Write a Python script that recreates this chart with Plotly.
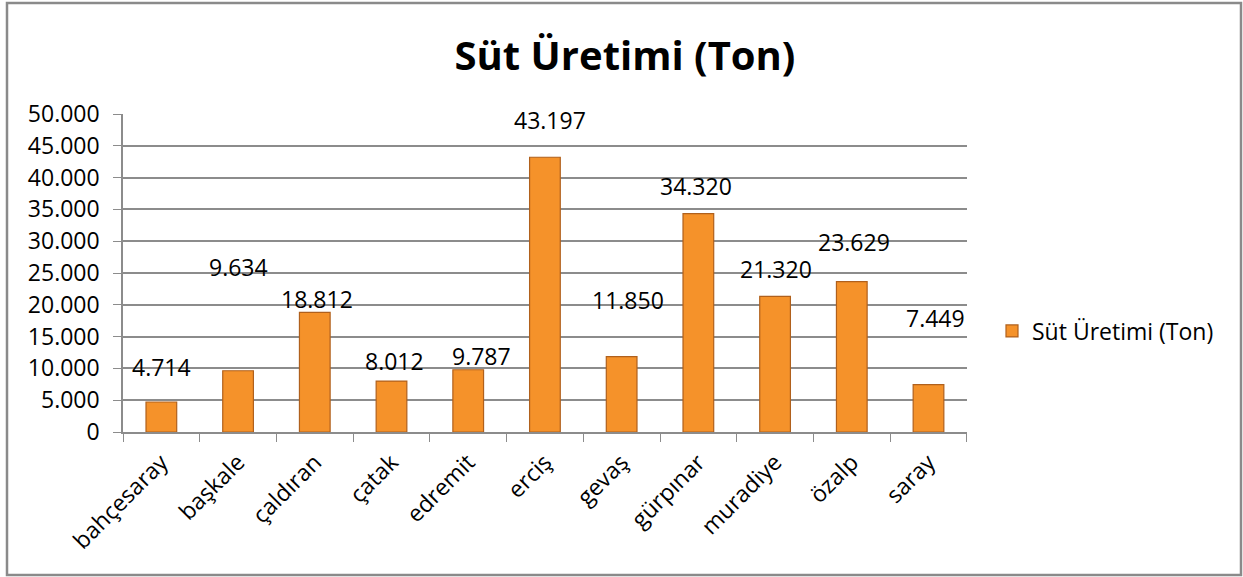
import plotly.graph_objects as go

categories = ["bahçesaray", "başkale", "çaldıran", "çatak", "edremit", "erciş",
              "gevaş", "gürpınar", "muradiye", "özalp", "saray"]
values = [4714, 9634, 18812, 8012, 9787, 43197, 11850, 34320, 21320, 23629, 7449]
value_labels = ["4.714", "9.634", "18.812", "8.012", "9.787", "43.197",
                "11.850", "34.320", "21.320", "23.629", "7.449"]
y_ticks = [0, 5000, 10000, 15000, 20000, 25000, 30000, 35000, 40000, 45000, 50000]
y_tick_labels = ["0", "5.000", "10.000", "15.000", "20.000", "25.000",
                 "30.000", "35.000", "40.000", "45.000", "50.000"]
series_name = "Süt Üretimi (Ton)"

# label placement offsets (pixels) mimicking the hand-moved labels
label_yshift = [34, 103, 12, 19, 13, 36, 56, 27, 26, 39, 66]
label_xshift = [0, 0, 2, 3, 13, 5, 6, -2, 1, 2, 7]

W, H = 1243, 577
ML, MR, MT, MB = 123, 276, 114, 145
PW, PH = W - ML - MR, H - MT - MB

FONT = "'Open Sans', Lato, sans-serif"
GRID = "#8c8c8c"

fig = go.Figure()
fig.add_trace(go.Bar(
    x=categories, y=values, name=series_name,
    marker=dict(color="#F5922A", line=dict(color="#B0601C", width=1.2)),
    width=0.4, showlegend=True,
))

for c, v, t, ys, xs in zip(categories, values, value_labels, label_yshift, label_xshift):
    fig.add_annotation(x=c, y=v, text=t, showarrow=False, yanchor="bottom",
                       yshift=ys - 17, xshift=xs,
                       font=dict(family=FONT, size=23, color="#000"))

def px_x(p):
    return (p - ML) / PW

def px_y(p):
    return (H - MB - p) / PH

fig.add_shape(type="rect", xref="paper", yref="paper",
              x0=px_x(7), x1=px_x(1241), y0=px_y(575), y1=px_y(3),
              line=dict(color="#8a8a8a", width=2.5), layer="below")

fig.update_layout(
    width=W, height=H,
    margin=dict(l=ML, r=MR, t=MT, b=MB, autoexpand=False),
    paper_bgcolor="white", plot_bgcolor="white",
    title=dict(text="<b>Süt Üretimi (Ton)</b>", x=625 / W, xanchor="center",
               y=1 - 56 / H, yanchor="middle",
               font=dict(family=FONT, size=40, color="#000")),
    bargap=0.6,
    legend=dict(x=px_x(992), y=px_y(331), xanchor="left", yanchor="middle",
                font=dict(family=FONT, size=23, color="#000"),
                bgcolor="rgba(0,0,0,0)", itemwidth=30),
    xaxis=dict(
        tickangle=-45, tickson="boundaries", ticks="outside", ticklen=8,
        tickcolor=GRID, showline=True, linecolor=GRID, linewidth=1.5,
        showgrid=False, tickfont=dict(family=FONT, size=23, color="#000"),
        ticklabelstandoff=6, fixedrange=True,
    ),
    yaxis=dict(
        range=[0, 50000], tickvals=y_ticks, ticktext=y_tick_labels,
        ticks="outside", ticklen=8, tickcolor=GRID,
        showline=True, linecolor=GRID, linewidth=1.5,
        showgrid=True, gridcolor=GRID, gridwidth=1.5, zeroline=False,
        tickfont=dict(family=FONT, size=23, color="#000"),
        ticklabelstandoff=9,
    ),
)

fig.write_html("out.html", config={"displayModeBar": False},
               post_script="document.body.style.margin='0';document.body.style.overflow='hidden';")
